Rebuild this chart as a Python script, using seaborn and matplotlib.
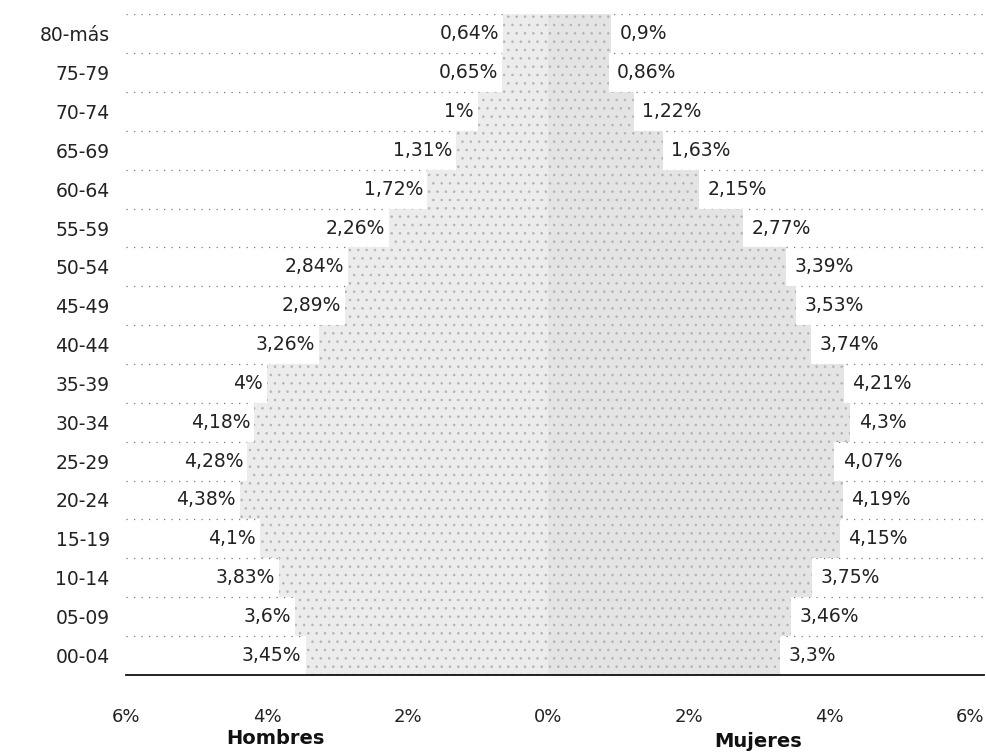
import pandas as pd
import seaborn as sns
import matplotlib.pyplot as plt
import matplotlib.transforms as mtransforms

# Datos de la pirámide (% de la población total)
edades = ['80-más', '75-79', '70-74', '65-69', '60-64', '55-59', '50-54', '45-49',
          '40-44', '35-39', '30-34', '25-29', '20-24', '15-19', '10-14', '05-09', '00-04']
hombres = [0.64, 0.65, 1, 1.31, 1.72, 2.26, 2.84, 2.89, 3.26, 4, 4.18, 4.28, 4.38, 4.1, 3.83, 3.6, 3.45]
mujeres = [0.9, 0.86, 1.22, 1.63, 2.15, 2.77, 3.39, 3.53, 3.74, 4.21, 4.3, 4.07, 4.19, 4.15, 3.75, 3.46, 3.3]
ticks = [-6, -4, -2, 0, 2, 4, 6]
tick_labels = ['6%', '4%', '2%', '0%', '2%', '4%', '6%']


def fmt(v):
    return f"{v:g}".replace('.', ',') + '%'


df = pd.concat([
    pd.DataFrame({'edad': edades, 'valor': [-v for v in hombres], 'sexo': 'Hombres'}),
    pd.DataFrame({'edad': edades, 'valor': mujeres, 'sexo': 'Mujeres'}),
])

sns.set_theme(style="white")
plt.rcParams['font.family'] = ['DejaVu Sans']
plt.rcParams['hatch.linewidth'] = 0.6

fig = plt.figure(figsize=(9.87, 7.54), dpi=100)
ax = fig.add_axes([0.128, 0.105, 0.869, 0.876])

sns.barplot(data=df, x='valor', y='edad', hue='sexo', order=edades, orient='h',
            dodge=False, width=1.0, palette=['#ececec', '#e4e4e4'],
            legend=False, ax=ax, zorder=2)
for patch in ax.patches:
    patch.set_hatch('..')
    patch.set_edgecolor('#b4b4b4')
    patch.set_linewidth(0)

# Etiquetas de valores
for i, (h, m) in enumerate(zip(hombres, mujeres)):
    ax.annotate(fmt(h), (-h, i), xytext=(-3, 0), textcoords='offset points',
                ha='right', va='center', fontsize=13.5, color='#222222')
    ax.annotate(fmt(m), (m, i), xytext=(6, 0), textcoords='offset points',
                ha='left', va='center', fontsize=13.5, color='#222222')

# Líneas punteadas entre grupos
for b in [i - 0.5 for i in range(len(edades))]:
    ax.axhline(b, color='#7a7a7a', lw=0.9, ls=(0, (1, 5)), zorder=1)

ax.set_xlim(-6, 6.2)
ax.set_ylim(len(edades) - 0.5, -0.5)
ax.set_xticks(ticks)
ax.set_xticklabels(tick_labels)
ax.set_xlabel('')
ax.set_ylabel('')
ax.tick_params(axis='x', length=4, width=0.8, color='#555555', pad=20, labelsize=13, labelcolor='#222222')
ax.tick_params(axis='y', length=0, pad=12, labelsize=13.5, labelcolor='#222222')

for side in ['top', 'right', 'left']:
    ax.spines[side].set_visible(False)
ax.spines['bottom'].set_color('#111111')
ax.spines['bottom'].set_linewidth(1.3)

trans = mtransforms.blended_transform_factory(ax.transData, fig.transFigure)
ax.text(-3.88, 0.021, 'Hombres', transform=trans, ha='center', va='center',
        fontsize=14, fontweight='bold', color='#111111')
ax.text(2.98, 0.017, 'Mujeres', transform=trans, ha='center', va='center',
        fontsize=14, fontweight='bold', color='#111111')

fig.savefig('out.png', dpi=100)
